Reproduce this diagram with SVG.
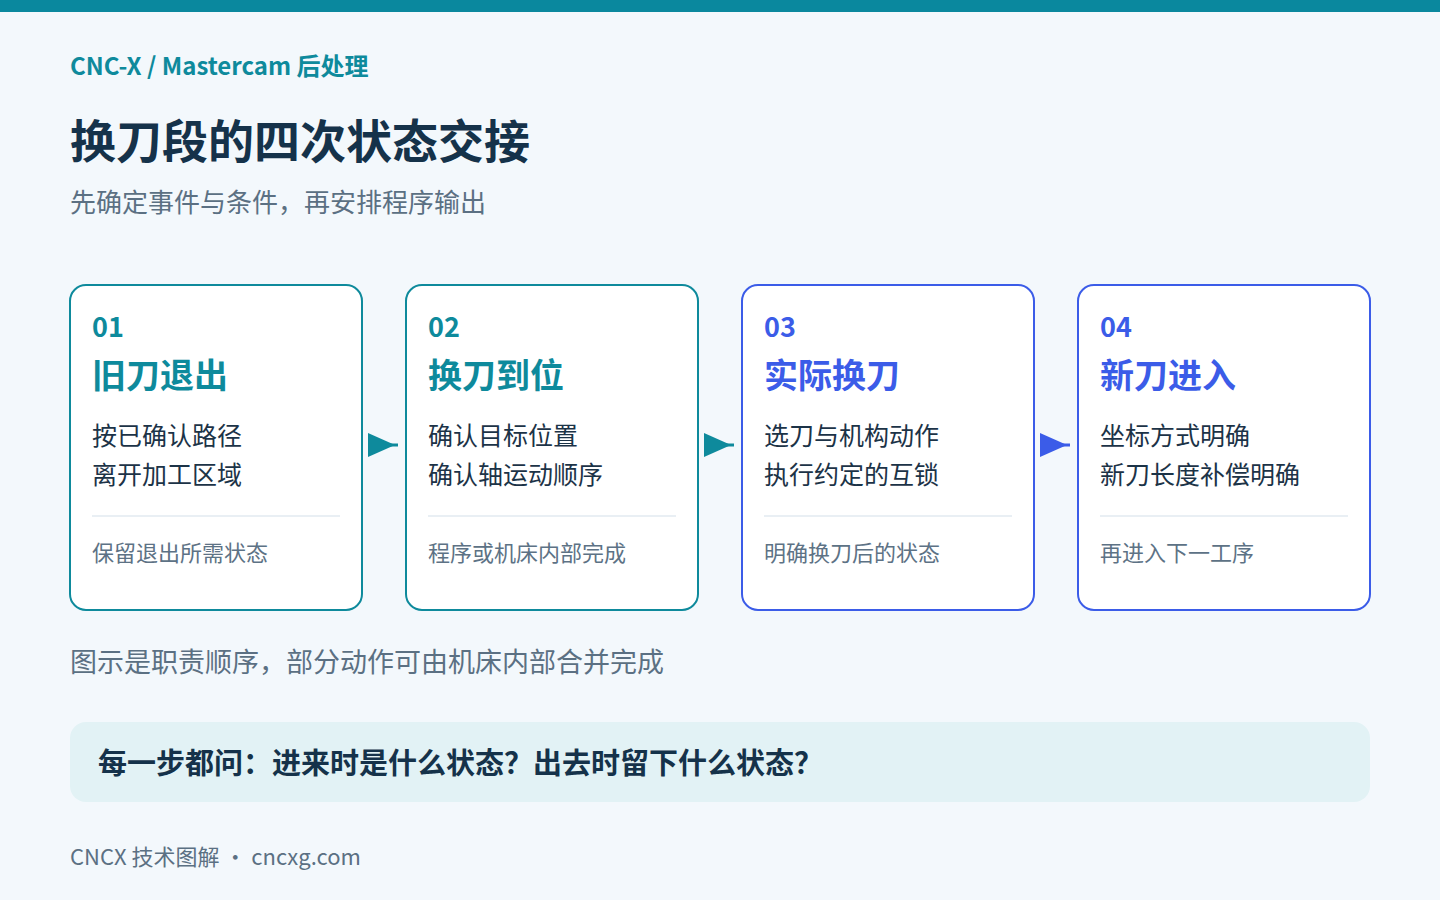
<svg xmlns="http://www.w3.org/2000/svg" width="1440" height="900" viewBox="0 0 1440 900">
<style>
text{font-family:"Noto Sans CJK SC","Noto Sans",sans-serif}
.card{fill:#ffffff;stroke-width:2}
.teal{stroke:#0e8a9c}
.blue{stroke:#3b5ce8}
.num{font-size:27px;font-weight:700}
.ttl{font-size:34px;font-weight:700}
.tc{fill:#0e8a9c}
.bc{fill:#3b5ce8}
.body{font-size:25px;fill:#1c3347}
.foot{font-size:22px;fill:#5d7285}
.div{stroke:#e9eff4;stroke-width:2}
</style>
<rect x="0" y="0" width="1440" height="900" fill="#f3f8fc"/>
<rect x="0" y="0" width="1440" height="12" fill="#0a889e"/>
<text x="70" y="75" font-size="24" font-weight="700" fill="#0e8a9c">CNC-X / Mastercam 后处理</text>
<text x="70" y="158" font-size="46" font-weight="700" fill="#15324a">换刀段的四次状态交接</text>
<text x="70" y="212" font-size="26" fill="#5b7083">先确定事件与条件，再安排程序输出</text>

<g id="connectors">
<polygon points="368,433 368,457 395,445" fill="#0e8a9c"/><line x1="390" y1="445" x2="398" y2="445" stroke="#0e8a9c" stroke-width="3"/>
<polygon points="704,433 704,457 731,445" fill="#0e8a9c"/><line x1="726" y1="445" x2="734" y2="445" stroke="#0e8a9c" stroke-width="3"/>
<polygon points="1040,433 1040,457 1067,445" fill="#3b5ce8"/><line x1="1062" y1="445" x2="1070" y2="445" stroke="#3b5ce8" stroke-width="3"/>
</g>

<g id="node1">
<rect class="card teal" x="70" y="285" width="292" height="325" rx="16"/>
<text class="num tc" x="92" y="337">01</text>
<text class="ttl tc" x="92" y="388">旧刀退出</text>
<text class="body" x="92" y="445">按已确认路径</text>
<text class="body" x="92" y="484">离开加工区域</text>
<line class="div" x1="92" y1="516" x2="340" y2="516"/>
<text class="foot" x="92" y="561">保留退出所需状态</text>
</g>
<g id="node2">
<rect class="card teal" x="406" y="285" width="292" height="325" rx="16"/>
<text class="num tc" x="428" y="337">02</text>
<text class="ttl tc" x="428" y="388">换刀到位</text>
<text class="body" x="428" y="445">确认目标位置</text>
<text class="body" x="428" y="484">确认轴运动顺序</text>
<line class="div" x1="428" y1="516" x2="676" y2="516"/>
<text class="foot" x="428" y="561">程序或机床内部完成</text>
</g>
<g id="node3">
<rect class="card blue" x="742" y="285" width="292" height="325" rx="16"/>
<text class="num bc" x="764" y="337">03</text>
<text class="ttl bc" x="764" y="388">实际换刀</text>
<text class="body" x="764" y="445">选刀与机构动作</text>
<text class="body" x="764" y="484">执行约定的互锁</text>
<line class="div" x1="764" y1="516" x2="1012" y2="516"/>
<text class="foot" x="764" y="561">明确换刀后的状态</text>
</g>
<g id="node4">
<rect class="card blue" x="1078" y="285" width="292" height="325" rx="16"/>
<text class="num bc" x="1100" y="337">04</text>
<text class="ttl bc" x="1100" y="388">新刀进入</text>
<text class="body" x="1100" y="445">坐标方式明确</text>
<text class="body" x="1100" y="484">新刀长度补偿明确</text>
<line class="div" x1="1100" y1="516" x2="1348" y2="516"/>
<text class="foot" x="1100" y="561">再进入下一工序</text>
</g>

<text x="70" y="672" font-size="27" fill="#5b7083">图示是职责顺序，部分动作可由机床内部合并完成</text>
<g id="callout">
<rect x="70" y="722" width="1300" height="80" rx="16" fill="#e2f2f5"/>
<text x="98" y="774" font-size="29" font-weight="700" fill="#15324a">每一步都问：进来时是什么状态？出去时留下什么状态？</text>
</g>
<text x="70" y="865" font-size="22" fill="#5b7083">CNCX 技术图解 · cncxg.com</text>
</svg>
